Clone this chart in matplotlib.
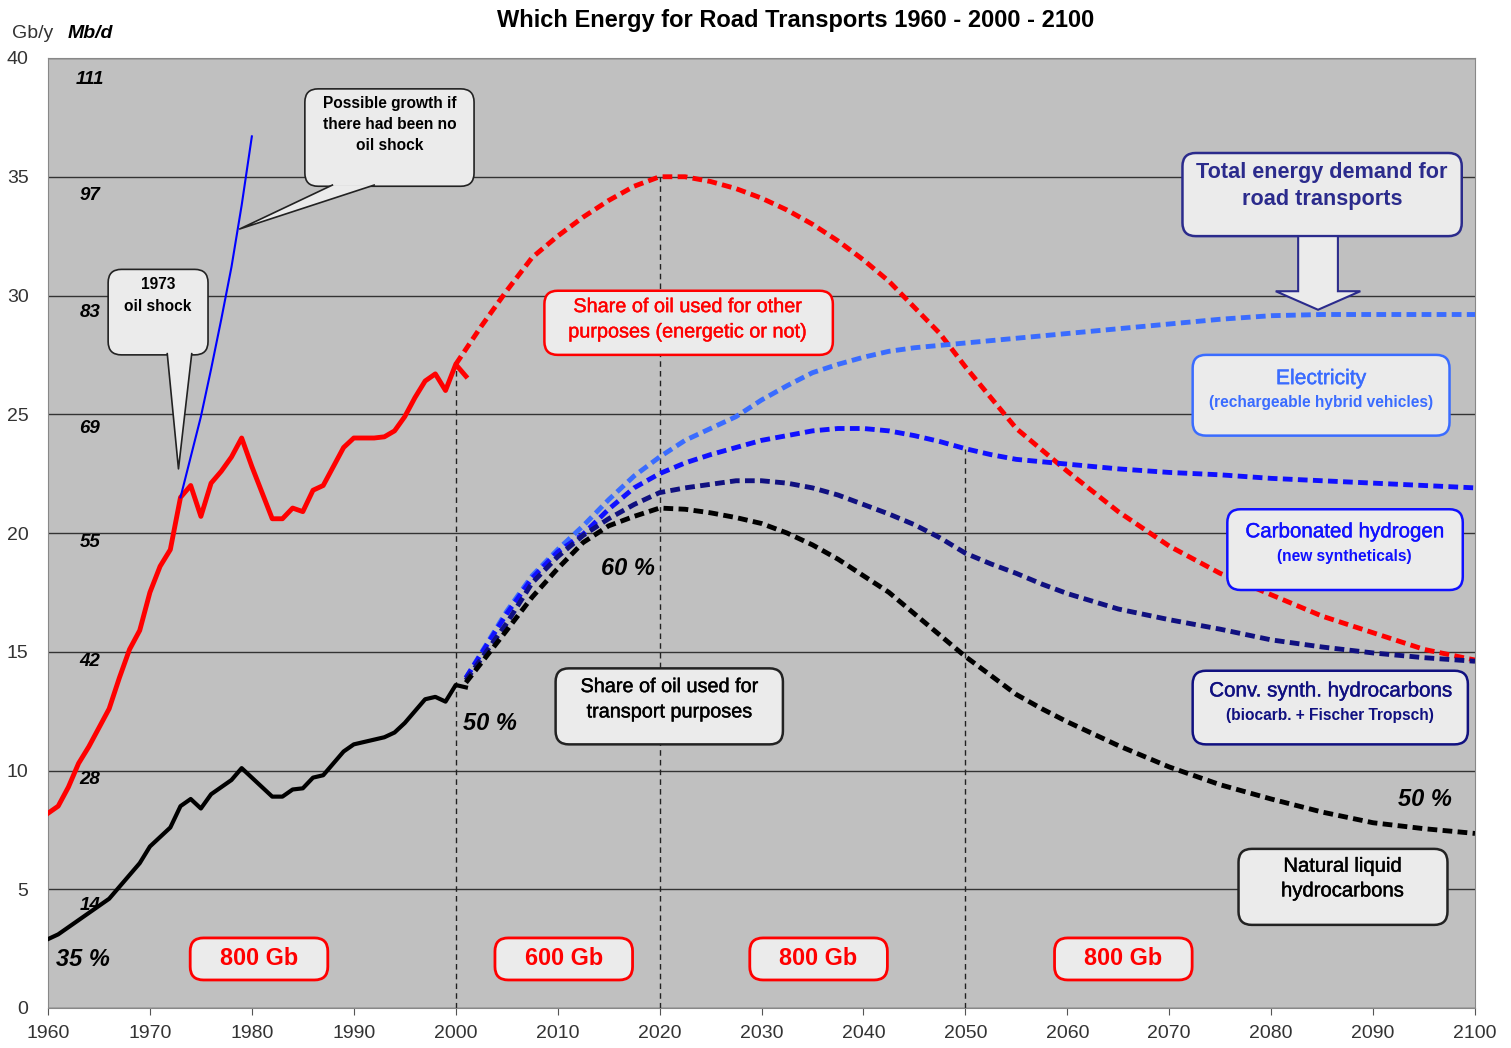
import numpy as np
import matplotlib.pyplot as plt
import matplotlib.patheffects as pe
from matplotlib.patches import FancyBboxPatch, Polygon

plt.rcParams['font.family'] = ['Liberation Sans', 'DejaVu Sans']

# historical data 1960 - 2001 (Gb/y)
hist_years = np.arange(1960, 2002)
oil_total = [8.2, 8.5, 9.3, 10.3, 11.0, 11.8, 12.6, 13.9, 15.1, 15.9,
             17.5, 18.6, 19.3, 21.5, 22.0, 20.7, 22.1, 22.6, 23.2, 24.0,
             22.8, 21.7, 20.6, 20.6, 21.05, 20.9, 21.8, 22.0, 22.8, 23.6,
             24.0, 24.0, 24.0, 24.05, 24.3, 24.9, 25.7, 26.4, 26.7, 26.0,
             27.1, 26.6]
oil_transport = [2.9, 3.1, 3.4, 3.7, 4.0, 4.3, 4.6, 5.1, 5.6, 6.1,
                 6.8, 7.2, 7.6, 8.5, 8.8, 8.4, 9.0, 9.3, 9.6, 10.1,
                 9.7, 9.3, 8.9, 8.9, 9.2, 9.25, 9.7, 9.8, 10.3, 10.8,
                 11.1, 11.2, 11.3, 11.4, 11.6, 12.0, 12.5, 13.0, 13.1, 12.9,
                 13.6, 13.5]

# "no oil shock" growth
noshock_years = np.arange(1973, 1981)
noshock = [21.5, 23.2, 24.9, 26.9, 29.0, 31.2, 33.8, 36.7]

# oil for other purposes, projection
other_years = [2000, 2002.5, 2005, 2007.5, 2010, 2012.5, 2015, 2017.5, 2020, 2022.5, 2025,
               2027.5, 2030, 2032.5, 2035, 2037.5, 2040, 2042.5, 2045, 2047.5, 2050,
               2052.5, 2055, 2057.5, 2060, 2065, 2070, 2075, 2080, 2085, 2090, 2095, 2100]
oil_other_proj = [27.1, 28.7, 30.2, 31.6, 32.5, 33.3, 34.0, 34.6, 35.0, 35.0, 34.8,
                  34.5, 34.1, 33.6, 33.0, 32.3, 31.5, 30.6, 29.5, 28.4, 27.0,
                  25.7, 24.4, 23.5, 22.6, 20.9, 19.45, 18.3, 17.4, 16.5, 15.8, 15.1, 14.65]

# road transport energy, projection (cumulative layers)
proj_years = [2001, 2005, 2007.5, 2010, 2012.5, 2015, 2017.5, 2020, 2022.5, 2025, 2027.5,
              2030, 2032.5, 2035, 2037.5, 2040, 2042.5, 2045, 2047.5, 2050, 2052.5,
              2055, 2057.5, 2060, 2065, 2070, 2075, 2080, 2085, 2090, 2095, 2100]
electricity = [13.9, 16.7, 18.2, 19.3, 20.3, 21.4, 22.4, 23.2, 23.9, 24.4, 24.9,
               25.6, 26.2, 26.75, 27.1, 27.4, 27.65, 27.8, 27.9, 28.0, 28.1,
               28.2, 28.3, 28.4, 28.6, 28.8, 29.0, 29.15, 29.2, 29.2, 29.2, 29.2]
carb_hydrogen = [13.9, 16.6, 18.1, 19.2, 19.95, 21.0, 21.9, 22.5, 22.95, 23.3, 23.6,
                 23.9, 24.1, 24.3, 24.4, 24.4, 24.3, 24.1, 23.85, 23.55, 23.3,
                 23.1, 23.0, 22.9, 22.7, 22.55, 22.45, 22.3, 22.2, 22.1, 22.0, 21.9]
conv_synth = [13.8, 16.2, 17.9, 19.0, 19.9, 20.6, 21.2, 21.7, 21.9, 22.05, 22.2,
              22.2, 22.1, 21.9, 21.6, 21.2, 20.8, 20.35, 19.8, 19.15, 18.7,
              18.3, 17.85, 17.45, 16.8, 16.35, 15.95, 15.5, 15.2, 14.95, 14.75, 14.6]
natural_liquid = [13.7, 15.9, 17.3, 18.5, 19.6, 20.3, 20.7, 21.05, 21.0, 20.85, 20.65,
                  20.4, 20.0, 19.5, 18.9, 18.2, 17.5, 16.6, 15.7, 14.8, 14.0,
                  13.2, 12.6, 12.05, 11.05, 10.15, 9.4, 8.8, 8.25, 7.8, 7.55, 7.35]

mbd_values = ['111', '97', '83', '69', '55', '42', '28', '14']
mbd_pos = [39.1, 34.2, 29.3, 24.4, 19.6, 14.6, 9.6, 4.3]

reserve_labels = ['800 Gb', '600 Gb', '800 Gb', '800 Gb']
reserve_pos = [1980.7, 2010.6, 2035.6, 2065.5]

pct_text = ['35 %', '50 %', '60 %', '50 %']
pct_x = [1963.4, 2003.4, 2016.9, 2095.1]
pct_y = [2.05, 12.0, 18.5, 8.8]

RED = '#ff0000'
LBLUE = '#3a6cff'
BLUE = '#1010ff'
NAVY = '#101080'
TOTAL = '#2b2b8c'
BOXFC = '#ebebeb'
ASP = 10.19 / 23.75

fig = plt.figure(figsize=(15.11, 10.48), dpi=100)
ax = fig.add_axes([48 / 1511, 40 / 1048, 1427 / 1511, 950 / 1048])
ax.set_facecolor('#c0c0c0')
ax.set_xlim(1960, 2100)
ax.set_ylim(0, 40)
ax.set_xticks(np.arange(1960, 2101, 10))
ax.set_yticks(np.arange(0, 41, 5))
ax.tick_params(axis='x', direction='out', length=5, color='#555555', labelsize=14, labelcolor='#333333', pad=7)
ax.tick_params(axis='y', length=0, labelsize=14, labelcolor='#333333', pad=14)
for s in ax.spines.values():
    s.set_color('#888888')
ax.yaxis.grid(True, color='#333333', lw=1)
ax.set_axisbelow(True)

# dashed verticals
top2000 = oil_total[list(hist_years).index(2000)]
top2020 = oil_other_proj[other_years.index(2020)]
top2050 = carb_hydrogen[proj_years.index(2050)]
for xv, top in [(2000, top2000), (2020, top2020), (2050, top2050)]:
    ax.plot([xv, xv], [0, top], color='#222222', lw=1, ls=(0, (4, 3)), zorder=2)

# lines
ax.plot(hist_years, oil_total, color=RED, lw=3.5, zorder=4)
ax.plot(hist_years, oil_transport, color='black', lw=3, zorder=4)
ax.plot(noshock_years, noshock, color='#0000ff', lw=1.5, zorder=4)

dash = (0, (2.0, 1.1))
ax.plot(other_years, oil_other_proj, color=RED, lw=3.5, ls=dash, zorder=3)
ax.plot(proj_years, electricity, color=LBLUE, lw=3.5, ls=dash, zorder=3)
ax.plot(proj_years, carb_hydrogen, color=BLUE, lw=3.5, ls=dash, zorder=3)
ax.plot(proj_years, conv_synth, color=NAVY, lw=3.5, ls=dash, zorder=3)
ax.plot(proj_years, natural_liquid, color='black', lw=3.5, ls=dash, zorder=3)


def box(x0, x1, y0, y1, ec, lw=1.8, z=6):
    p = FancyBboxPatch((x0, y0), x1 - x0, y1 - y0,
                       boxstyle='round,pad=0,rounding_size=1.3',
                       mutation_aspect=ASP, fc=BOXFC, ec=ec, lw=lw, zorder=z)
    ax.add_patch(p)


def tail(xa, xb, ybase, tip, ec='#222222'):
    poly = Polygon([(xa, ybase), tip, (xb, ybase)], closed=True, fc=BOXFC, ec='none', zorder=7)
    ax.add_patch(poly)
    ax.plot([xa, tip[0], xb], [ybase, tip[1], ybase], color=ec, lw=1.2, zorder=8)


def label(x, y, s, size, color='black', bold=False, ls=1.2):
    t = ax.text(x, y, s, ha='center', va='center', fontsize=size, color=color,
                fontweight='bold' if bold else 'normal', linespacing=ls, zorder=9)
    if not bold:
        # slightly heavier strokes, like the original rendering
        t.set_path_effects([pe.withStroke(linewidth=0.3, foreground=color)])
    return t


# callouts
box(1985.2, 2001.8, 34.6, 38.7, '#222222', lw=1.2)
tail(1987.9, 1992.0, 34.65, (1978.8, 32.8))
label(1993.5, 37.2, 'Possible growth if\nthere had been no\noil shock', 11.2, bold=True, ls=1.52)

box(1965.9, 1975.7, 27.5, 31.1, '#222222', lw=1.2)
tail(1971.7, 1974.1, 27.55, (1972.8, 22.7))
label(1970.8, 30.0, '1973\noil shock', 11.2, bold=True, ls=1.55)

box(2008.7, 2037.0, 27.5, 30.2, RED)
label(2022.8, 29.0, 'Share of oil used for other\npurposes (energetic or not)', 14.3, color=RED, ls=1.42)

box(2009.8, 2032.1, 11.1, 14.3, '#222222')
label(2021.0, 13.0, 'Share of oil used for\ntransport purposes', 14.3, ls=1.42)

box(2071.3, 2098.7, 32.5, 36.0, TOTAL)
label(2085.0, 34.6, 'Total energy demand for\nroad transports', 15.6, color=TOTAL, bold=True, ls=1.4)
ax.arrow(2084.6, 32.5, 0, -3.1, width=3.9, head_width=8.3, head_length=0.78,
         length_includes_head=True, fc=BOXFC, ec=TOTAL, lw=1.5, zorder=6)

box(2072.3, 2097.5, 24.1, 27.5, LBLUE)
label(2084.9, 26.5, 'Electricity', 15.2, color=LBLUE)
label(2084.9, 25.5, '(rechargeable hybrid vehicles)', 11.2, color=LBLUE, bold=True)

box(2075.7, 2098.8, 17.6, 21.0, BLUE)
label(2087.2, 20.05, 'Carbonated hydrogen', 14.8, color=BLUE)
label(2087.2, 19.0, '(new syntheticals)', 11.2, color=BLUE, bold=True)

box(2072.3, 2099.3, 11.1, 14.2, NAVY)
label(2085.8, 13.35, 'Conv. synth. hydrocarbons', 14.8, color=NAVY)
label(2085.8, 12.3, '(biocarb. + Fischer Tropsch)', 11.2, color=NAVY, bold=True)

box(2076.8, 2097.3, 3.5, 6.7, '#222222')
label(2087.0, 5.45, 'Natural liquid\nhydrocarbons', 14.6, ls=1.38)

# reserves boxes
for lab, xc in zip(reserve_labels, reserve_pos):
    box(xc - 6.75, xc + 6.75, 1.18, 2.95, RED, lw=2)
    ax.text(xc, 2.1, lab, ha='center', va='center', fontsize=16.8, fontweight='bold', color=RED, zorder=9)

# Mb/d scale
for lab, yv in zip(mbd_values, mbd_pos):
    ax.text(1964.1, yv, lab, ha='center', va='center', fontsize=13.5, fontweight='bold',
            style='italic', zorder=9)

# shares
for t, xv, yv in zip(pct_text, pct_x, pct_y):
    ax.text(xv, yv, t, ha='center', va='center', fontsize=17, fontweight='bold', style='italic', zorder=9)

fig.text(796 / 1511, 1 - 20 / 1048, 'Which Energy for Road Transports 1960 - 2000 - 2100',
         ha='center', va='center', fontsize=17, fontweight='bold')
fig.text(33 / 1511, 1 - 34 / 1048, 'Gb/y', ha='center', va='center', fontsize=14, color='#333333')
fig.text(90 / 1511, 1 - 34 / 1048, 'Mb/d', ha='center', va='center', fontsize=14,
         fontweight='bold', style='italic')

fig.savefig('out.png', dpi=100)
